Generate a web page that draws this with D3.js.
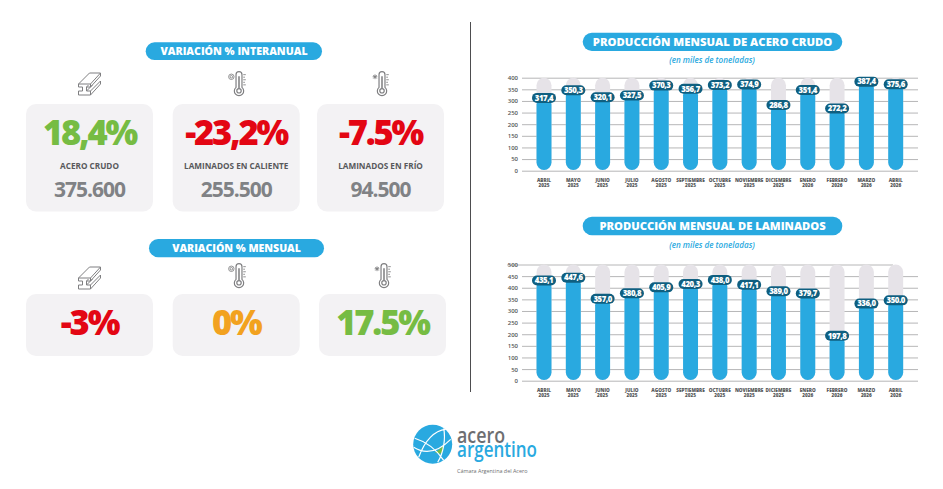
<!DOCTYPE html>
<html>
<head>
<meta charset="utf-8">
<script src="https://cdn.jsdelivr.net/npm/d3@7"></script>
<style>
  html, body {margin: 0; background: #fff;}
  svg {display: block;}
  text {font-family: 'Open Sans', sans-serif;}
</style>
</head>
<body>
<svg id="chart" width="943" height="489"></svg>
<script>
var months = ['ABRIL', 'MAYO', 'JUNIO', 'JULIO', 'AGOSTO', 'SEPTIEMBRE', 'OCTUBRE', 'NOVIEMBRE', 'DICIEMBRE', 'ENERO', 'FEBRERO', 'MARZO', 'ABRIL']
var years = ['2025', '2025', '2025', '2025', '2025', '2025', '2025', '2025', '2025', '2026', '2026', '2026', '2026']

var aceroValues = [317.4, 350.3, 320.1, 327.5, 370.3, 356.7, 373.2, 374.9, 286.8, 351.4, 272.2, 387.4, 375.6]
var aceroLabels = ['317,4', '350,3', '320,1', '327,5', '370,3', '356,7', '373,2', '374,9', '286,8', '351,4', '272,2', '387,4', '375,6']
var aceroTicks = [0, 50, 100, 150, 200, 250, 300, 350, 400]

var laminadosValues = [435.1, 447.6, 357.0, 380.8, 405.9, 420.3, 438.0, 417.1, 389.0, 379.7, 197.8, 336.0, 350.0]
var laminadosLabels = ['435,1', '447,6', '357,0', '380,8', '405,9', '420,3', '438,0', '417,1', '389,0', '379,7', '197,8', '336,0', '350.0']
var laminadosTicks = [0, 50, 100, 150, 200, 250, 300, 350, 400, 450, 500]

var interanualPct = ['18,4%', '-23,2%', '-7.5%']
var interanualNames = ['ACERO CRUDO', 'LAMINADOS EN CALIENTE', 'LAMINADOS EN FRÍO']
var interanualTons = ['375.600', '255.500', '94.500']
var mensualPct = ['-3%', '0%', '17.5%']

var blue = '#29a9e0', dark = '#0f5f80', track = '#e6e3e8', cardBg = '#f3f2f4'
var green = '#76bc43', red = '#e30613', orange = '#f2a21f', grey = '#808285', iconGrey = '#7f7f81'

var svg = d3.select('#chart')

function pill(cx, x0, x1, y0, y1, txt, size){
  svg.append('rect')
    .attr('x', x0).attr('y', y0)
    .attr('width', x1 - x0).attr('height', y1 - y0)
    .attr('rx', (y1 - y0)/2).attr('fill', blue)
  svg.append('text')
    .attr('x', cx).attr('y', (y0 + y1)/2).attr('dy', '.36em')
    .attr('text-anchor', 'middle').attr('fill', '#fff')
    .attr('font-size', size).attr('font-weight', 800)
    .text(txt)
}

function card(x, y, w, h, pct, color, name, tons){
  svg.append('rect')
    .attr('x', x).attr('y', y).attr('width', w).attr('height', h)
    .attr('rx', 10).attr('fill', cardBg)
  var cx = x + w/2
  svg.append('text')
    .attr('x', cx).attr('y', y + 41)
    .attr('text-anchor', 'middle').attr('fill', color)
    .attr('font-size', 34.5).attr('font-weight', 800)
    .attr('letter-spacing', -2.2)
    .text(pct)
  if (!name) return
  svg.append('text')
    .attr('x', cx).attr('y', y + 65)
    .attr('text-anchor', 'middle').attr('fill', '#58595b')
    .attr('font-size', 8.2).attr('font-weight', 700)
    .text(name)
  svg.append('text')
    .attr('x', cx).attr('y', y + 93)
    .attr('text-anchor', 'middle').attr('fill', grey)
    .attr('font-size', 21).attr('font-weight', 700)
    .attr('letter-spacing', -1)
    .text(tons)
}

function beam(cx, cy){
  var g = svg.append('g')
    .attr('transform', `translate(${cx},${cy})`)
    .attr('fill', 'none').attr('stroke', iconGrey).attr('stroke-width', 1)
  g.append('path').attr('d', 'M-11 0 H1 V3 H-3 V7 H1 V11 H-11 V7 H-7 V3 H-11 Z')
  g.append('path').attr('d', 'M-11 0 L0 -11 H11 V-8 L1 3 M1 0 L11 -11')
  g.append('path').attr('d', 'M1 7 L11 -3 V0 L1 11 M-3 7 L3 1 M-3 3 L-1 1')
}

function thermo(cx, cy, cold){
  var g = svg.append('g')
    .attr('transform', `translate(${cx},${cy}) scale(.85)`)
    .attr('fill', 'none').attr('stroke', iconGrey).attr('stroke-width', 1.4)
  g.append('path').attr('d', 'M-3.5 -11 A3.5 3.5 0 0 1 3.5 -11 L3.5 4 A5.5 5.5 0 1 1 -3.5 4 Z')
  g.append('circle').attr('cy', 8).attr('r', 2.6)
  g.append('path').attr('d', 'M0 -9 V5').attr('stroke-width', 1.8)
  g.append('path').attr('stroke-width', 1).attr('d', 'M5 -11 H8 M5 -8 H7 M5 -5 H8 M5 -2 H7 M5 1 H8')
  if (cold){
    g.append('path').attr('stroke-width', 1.1).attr('d', 'M-11 -8.5 H-5.5 M-8.2 -11.3 V-5.7 M-10.2 -10.5 L-6.2 -6.5 M-6.2 -10.5 L-10.2 -6.5')
  } else {
    g.append('circle').attr('cx', -9).attr('cy', -8.5).attr('r', 3.2).attr('stroke-width', 1)
    g.append('circle').attr('cx', -9).attr('cy', -8.5).attr('r', 1.5).attr('stroke-width', 1)
  }
}

function barChart(opt){
  var c = opt
  var x = d3.scaleBand().domain(d3.range(months.length)).range([529.35, 910.35]).paddingInner(.49).paddingOuter(.245)
  var y = d3.scaleLinear().domain([0, c.max]).range([c.y0, c.y1])
  var g = svg.append('g')

  var axis = g.append('g')
    .attr('transform', 'translate(522,0)')
    .call(d3.axisLeft(y).tickValues(c.ticks).tickSize(-396).tickPadding(4).tickFormat(d3.format('d')))
  axis.select('.domain').remove()
  axis.selectAll('line').attr('stroke', '#a3a3a5').attr('stroke-width', .8)
  axis.selectAll('text').attr('font-size', 6).attr('font-weight', 600).attr('fill', '#555')
  if (c.longTop) axis.selectAll('.tick').filter(d => d == c.max).select('line').attr('x1', -15).attr('x2', 371)

  var w = x.bandwidth()
  g.selectAll('rect.track').data(c.values).join('rect')
    .attr('class', 'track')
    .attr('x', (d, i) => x(i)).attr('width', w)
    .attr('y', y(c.max)).attr('height', y(0) - y(c.max) - .7)
    .attr('rx', w/2).attr('fill', track)
  g.selectAll('rect.bar').data(c.values).join('rect')
    .attr('class', 'bar')
    .attr('x', (d, i) => x(i)).attr('width', w)
    .attr('y', d => y(d)).attr('height', d => y(0) - y(d) - .7)
    .attr('rx', w/2).attr('fill', blue)

  var lab = g.selectAll('g.val').data(c.values).join('g')
    .attr('class', 'val')
    .attr('transform', (d, i) => `translate(${x(i) + w/2},${y(d) + 1})`)
  lab.append('rect')
    .attr('x', -12).attr('y', -5).attr('width', 24).attr('height', 10)
    .attr('rx', 5).attr('fill', dark)
  lab.append('text')
    .attr('text-anchor', 'middle').attr('dy', '.36em')
    .attr('fill', '#fff').attr('font-size', 7.8).attr('font-weight', 800)
    .attr('letter-spacing', -.45)
    .text((d, i) => c.labels[i])

  var mth = g.selectAll('text.month').data(months).join('text')
    .attr('class', 'month')
    .attr('text-anchor', 'middle').attr('fill', '#58595b')
    .attr('font-size', 4.7).attr('font-weight', 800)
    .attr('y', y(0) + 11)
  mth.append('tspan').attr('x', (d, i) => x(i) + w/2).text(d => d)
  mth.append('tspan').attr('x', (d, i) => x(i) + w/2).attr('dy', 5).text((d, i) => years[i])
}

// left side
pill(234, 145.7, 322, 42.3, 60, 'VARIACIÓN %  INTERANUAL', 10.6)
pill(236.5, 149, 324, 239, 257.3, 'VARIACIÓN % MENSUAL', 10.5)

beam(89.5, 84)
thermo(239, 84, false)
thermo(382, 84, true)
beam(89.5, 278)
thermo(239, 276, false)
thermo(384, 276, true)

var topX = [26, 172.7, 317]
var topColors = [green, red, red]
interanualPct.forEach((d, i) => card(topX[i], 104, 127, 107.5, d, topColors[i], interanualNames[i], interanualTons[i]))
var lowX = [26, 172.7, 319]
var lowColors = [red, orange, green]
mensualPct.forEach((d, i) => card(lowX[i], 294, 127, 62, d, lowColors[i]))

svg.append('path').attr('d', 'M470.5 22 V392').attr('stroke', '#4d4d4f').attr('stroke-width', 1)

// right side
pill(712.5, 582.7, 842.3, 32.7, 51, 'PRODUCCIÓN MENSUAL DE ACERO CRUDO', 11.3)
pill(712.5, 582.7, 842.3, 216.7, 235.3, 'PRODUCCIÓN MENSUAL DE LAMINADOS', 11.2)
;[60, 245].forEach(y => {
  svg.append('text')
    .attr('x', 712).attr('y', y).attr('dy', '.36em').attr('text-anchor', 'middle')
    .attr('fill', blue).attr('font-size', 8.1).attr('font-style', 'italic').attr('font-weight', 600)
    .text('(en miles de toneladas)')
})

barChart({values: aceroValues, labels: aceroLabels, ticks: aceroTicks, max: 400, y0: 170.7, y1: 77.7})
barChart({values: laminadosValues, labels: laminadosLabels, ticks: laminadosTicks, max: 500, y0: 380.7, y1: 264.5, longTop: true})

// logo
var logo = svg.append('g').attr('transform', 'translate(432.7,444.3)')
logo.append('circle').attr('r', 19.5).attr('fill', blue)
logo.append('path').attr('d', 'M2 8 Q7 6 10.6 1 Q11 5 9 9 Q5 9.5 2 8 Z').attr('fill', green)
logo.append('path').attr('fill', 'none').attr('stroke', '#fff').attr('stroke-width', 1.2)
  .attr('d', 'M-14 13 C-8 -4 2 -14 13 -15 M-18 -6 C-8 -3 2 3 11 16 M11 -16 C13 -6 11 8 5 18 M-19 3 C-8 10 4 9 18 -5')
svg.append('text').attr('x', 457).attr('y', 443).attr('fill', '#6d6e71')
  .attr('font-size', 21).attr('font-weight', 600)
  .attr('textLength', 48).attr('lengthAdjust', 'spacingAndGlyphs').text('acero')
svg.append('text').attr('x', 457).attr('y', 457).attr('fill', blue)
  .attr('font-size', 21).attr('font-weight', 600)
  .attr('textLength', 80).attr('lengthAdjust', 'spacingAndGlyphs').text('argentino')
svg.append('text').attr('x', 457).attr('y', 472.6).attr('fill', '#6d6e71')
  .attr('font-size', 5.4).text('Cámara Argentina del Acero')
</script>
</body>
</html>
